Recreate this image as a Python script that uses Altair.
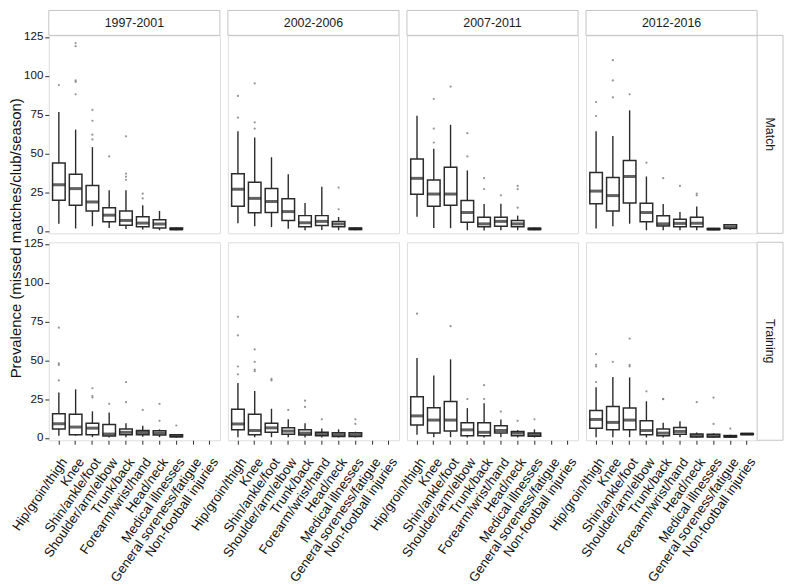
import altair as alt
import pandas as pd

CATEGORIES = ["Hip/groin/thigh", "Knee", "Shin/ankle/foot", "Shoulder/arm/elbow",
              "Trunk/back", "Forearm/wrist/hand", "Head/neck", "Medical illnesses",
              "General soreness/fatigue", "Non-football injuries"]
PERIODS = ["1997-2001", "2002-2006", "2007-2011", "2012-2016"]
SETTINGS = ["Match", "Training"]
Y_TICKS = [0, 25, 50, 75, 100, 125]

# Box statistics per category: [lower whisker, Q1, median, Q3, upper whisker]; None = no data
MATCH_1997 = [[4.7, 19.8, 29.8, 43.8, 76.6], [1.6, 16.6, 27.3, 36.6, 65.3], [3.1, 12.9, 18.7, 29.3, 54.0],
              [2.0, 6.0, 10.2, 15.0, 26.3], [1.3, 3.7, 6.8, 12.9, 26.3], [0.9, 2.7, 5.1, 9.2, 16.6],
              [0.5, 2.0, 4.5, 7.2, 12.9], [0.5, 1.0, 1.3, 1.9, 2.2], None, None]
MATCH_2002 = [[5.0, 16.0, 26.9, 36.8, 64.3], [3.0, 11.7, 21.0, 31.4, 60.2], [2.5, 11.9, 19.0, 27.3, 47.5],
              [1.5, 6.8, 12.5, 20.7, 36.6], [0.5, 2.7, 5.3, 9.9, 18.1], [0.7, 3.5, 6.2, 9.9, 28.5],
              [0.5, 2.7, 4.6, 6.2, 9.0], [0.5, 1.0, 1.4, 1.9, 2.2], None, None]
MATCH_2007 = [[9.2, 23.6, 33.9, 46.4, 74.2], [2.0, 16.0, 23.8, 32.9, 53.0], [1.8, 16.6, 23.8, 41.1, 68.4],
              [0.5, 5.7, 11.9, 19.7, 39.0], [0.3, 2.8, 4.6, 8.8, 17.4], [0.5, 3.0, 6.2, 8.8, 17.6],
              [0.5, 2.7, 4.6, 6.8, 9.9], [0.5, 1.0, 1.3, 1.8, 2.2], None, None]
MATCH_2012 = [[1.6, 17.6, 25.7, 37.6, 64.3], [3.0, 12.9, 22.8, 34.5, 61.2], [4.7, 18.1, 35.1, 45.4, 77.7],
              [0.5, 6.0, 11.9, 17.8, 35.1], [0.5, 3.2, 4.6, 9.8, 17.4], [0.5, 2.7, 4.9, 7.6, 12.3],
              [0.5, 2.7, 5.0, 8.8, 15.8], [0.5, 0.9, 1.2, 1.6, 2.0], [0.8, 1.6, 2.5, 4.0, 4.5], None]
TRAIN_1997 = [[1.4, 5.8, 9.1, 15.6, 29.2], [1.4, 2.1, 7.0, 15.2, 31.3], [0.5, 2.1, 6.3, 9.4, 17.1],
              [0.3, 1.2, 2.5, 8.6, 16.3], [0.5, 2.1, 3.6, 5.7, 9.4], [0.7, 2.1, 3.5, 4.8, 7.8],
              [0.5, 1.9, 3.1, 4.6, 5.5], [0.3, 0.7, 1.2, 2.0, 2.3], None, None]
TRAIN_2002 = [[0.5, 5.2, 9.0, 18.4, 35.4], [0.5, 2.1, 4.8, 15.2, 30.2], [0.5, 3.6, 6.5, 9.4, 18.8],
              [0.5, 2.3, 4.4, 6.5, 12.0], [0.3, 1.9, 3.1, 5.2, 9.4], [0.3, 1.4, 2.5, 3.6, 6.0],
              [0.3, 1.0, 2.0, 3.3, 5.5], [0.3, 1.0, 2.0, 3.3, 4.0], None, None]
TRAIN_2007 = [[2.0, 8.4, 14.2, 26.5, 51.5], [0.5, 3.1, 11.5, 19.4, 40.2], [0.5, 4.4, 11.5, 23.4, 50.6],
              [0.3, 1.4, 5.2, 9.8, 19.2], [0.3, 1.4, 3.6, 9.8, 22.3], [0.5, 3.1, 4.8, 7.8, 11.9],
              [0.3, 1.4, 3.1, 4.2, 5.0], [0.3, 1.1, 2.1, 3.1, 5.5], None, None]
TRAIN_2012 = [[0.5, 6.3, 11.9, 17.7, 32.7], [0.5, 5.2, 10.0, 20.2, 39.2], [0.5, 5.2, 11.5, 19.2, 39.0],
              [0.3, 2.1, 4.8, 11.0, 23.6], [0.3, 1.4, 3.1, 5.7, 9.8], [0.5, 2.3, 4.2, 6.7, 10.8],
              [0.2, 0.6, 1.5, 2.5, 3.5], [0.2, 0.6, 1.3, 2.4, 3.0], [0.3, 0.6, 1.0, 1.5, 2.0],
              [2.0, 2.2, 2.5, 2.8, 3.0]]

# Individual club-season values lying beyond the whiskers: (category, value)
OUT_MATCH_1997 = [("Hip/groin/thigh", 94), ("Knee", 121), ("Knee", 119), ("Knee", 97), ("Knee", 96),
                  ("Knee", 88), ("Shin/ankle/foot", 78), ("Shin/ankle/foot", 71), ("Shin/ankle/foot", 62),
                  ("Shin/ankle/foot", 59), ("Shoulder/arm/elbow", 48), ("Trunk/back", 61), ("Trunk/back", 37),
                  ("Trunk/back", 35), ("Trunk/back", 33), ("Forearm/wrist/hand", 24), ("Forearm/wrist/hand", 21)]
OUT_MATCH_2002 = [("Hip/groin/thigh", 87), ("Hip/groin/thigh", 73), ("Knee", 95), ("Knee", 70), ("Knee", 66),
                  ("Head/neck", 28), ("Head/neck", 14)]
OUT_MATCH_2007 = [("Knee", 85), ("Knee", 66), ("Knee", 57), ("Shin/ankle/foot", 93), ("Shoulder/arm/elbow", 63),
                  ("Shoulder/arm/elbow", 48), ("Trunk/back", 34), ("Trunk/back", 27), ("Forearm/wrist/hand", 23),
                  ("Head/neck", 29), ("Head/neck", 27), ("Head/neck", 15)]
OUT_MATCH_2012 = [("Hip/groin/thigh", 83), ("Hip/groin/thigh", 74), ("Knee", 110), ("Knee", 97), ("Knee", 86),
                  ("Shin/ankle/foot", 88), ("Shoulder/arm/elbow", 44), ("Trunk/back", 34),
                  ("Forearm/wrist/hand", 29), ("Head/neck", 24), ("Head/neck", 23)]
OUT_TRAIN_1997 = [("Hip/groin/thigh", 71), ("Hip/groin/thigh", 48), ("Hip/groin/thigh", 47), ("Hip/groin/thigh", 37),
                  ("Shin/ankle/foot", 32), ("Shin/ankle/foot", 27), ("Shin/ankle/foot", 26),
                  ("Shoulder/arm/elbow", 22), ("Trunk/back", 36), ("Trunk/back", 23), ("Forearm/wrist/hand", 18),
                  ("Head/neck", 22), ("Head/neck", 11), ("Medical illnesses", 8)]
OUT_TRAIN_2002 = [("Hip/groin/thigh", 78), ("Hip/groin/thigh", 66), ("Hip/groin/thigh", 46), ("Hip/groin/thigh", 41),
                  ("Knee", 57), ("Knee", 49), ("Knee", 44), ("Knee", 43), ("Shin/ankle/foot", 38),
                  ("Shin/ankle/foot", 37), ("Shoulder/arm/elbow", 18), ("Trunk/back", 24), ("Trunk/back", 20),
                  ("Forearm/wrist/hand", 12), ("Medical illnesses", 12), ("Medical illnesses", 9)]
OUT_TRAIN_2007 = [("Hip/groin/thigh", 80), ("Shin/ankle/foot", 72), ("Shoulder/arm/elbow", 25), ("Trunk/back", 34),
                  ("Trunk/back", 25), ("Forearm/wrist/hand", 17), ("Head/neck", 11), ("Medical illnesses", 12)]
OUT_TRAIN_2012 = [("Hip/groin/thigh", 54), ("Hip/groin/thigh", 47), ("Hip/groin/thigh", 46), ("Hip/groin/thigh", 36),
                  ("Knee", 49), ("Shin/ankle/foot", 64), ("Shin/ankle/foot", 47), ("Shin/ankle/foot", 46),
                  ("Shoulder/arm/elbow", 30), ("Trunk/back", 25), ("Trunk/back", 25), ("Head/neck", 23),
                  ("Medical illnesses", 26), ("Medical illnesses", 9), ("General soreness/fatigue", 6)]

BOX_STATS = {
    ("Match", "1997-2001"): MATCH_1997, ("Match", "2002-2006"): MATCH_2002,
    ("Match", "2007-2011"): MATCH_2007, ("Match", "2012-2016"): MATCH_2012,
    ("Training", "1997-2001"): TRAIN_1997, ("Training", "2002-2006"): TRAIN_2002,
    ("Training", "2007-2011"): TRAIN_2007, ("Training", "2012-2016"): TRAIN_2012,
}
OUTLIERS = {
    ("Match", "1997-2001"): OUT_MATCH_1997, ("Match", "2002-2006"): OUT_MATCH_2002,
    ("Match", "2007-2011"): OUT_MATCH_2007, ("Match", "2012-2016"): OUT_MATCH_2012,
    ("Training", "1997-2001"): OUT_TRAIN_1997, ("Training", "2002-2006"): OUT_TRAIN_2002,
    ("Training", "2007-2011"): OUT_TRAIN_2007, ("Training", "2012-2016"): OUT_TRAIN_2012,
}

FONT = "Liberation Sans"
GREY = "#c4c4c4"
INK = "#2b2b2b"
W, H = 172, 199
GAP = 9
STRIP_H, STRIP_W = 25, 26
BOX_PX = 0.75 * W / 10.2
YSCALE = alt.Scale(domain=[-1.5, 126], nice=False, zero=False)
XSCALE = alt.Scale(domain=CATEGORIES, paddingInner=0, paddingOuter=0.1)


def panel(setting, period, col, row):
    rows = []
    for cat, st in zip(CATEGORIES, BOX_STATS[(setting, period)]):
        if st is not None:
            rows.append({"category": cat, "lo": st[0], "q1": st[1], "med": st[2], "q3": st[3], "hi": st[4]})
    box_df = pd.DataFrame(rows)
    out_df = pd.DataFrame(OUTLIERS[(setting, period)], columns=["category", "value"])

    if row == 1:
        x_axis = alt.Axis(labelAngle=-55, labelAlign="right", labelBaseline="top", labelFontSize=13.3,
                          labelColor="#111111", labelFont=FONT, tickColor=INK, tickSize=4, domain=False,
                          labelPadding=11, grid=False)
    else:
        x_axis = None
    if col == 0:
        y_axis = alt.Axis(values=Y_TICKS, grid=False, domain=False, tickColor=INK, tickSize=4,
                          labelFontSize=11.6, labelColor="#111111", labelFont=FONT, labelPadding=2,
                          titleFont=FONT, titleFontSize=15, titleFontWeight="normal", titleColor="#111111",
                          titleX=-33, titleY=H + GAP / 2, titleAlign="center", titleBaseline="middle")
    else:
        y_axis = None
    ytitle = "Prevalence (missed matches/club/season)" if (col == 0 and row == 0) else None

    def X():
        return alt.X("category:N", scale=XSCALE, axis=x_axis, title=None, sort=CATEGORIES)

    def Y(field):
        return alt.Y(field, scale=YSCALE, axis=y_axis, title=ytitle)

    base = alt.Chart(box_df)
    lower = base.mark_rule(color=INK, strokeWidth=1.4).encode(x=X(), y=Y("lo:Q"), y2="q1:Q")
    upper = base.mark_rule(color=INK, strokeWidth=1.4).encode(x=X(), y=Y("q3:Q"), y2="hi:Q")
    box = base.mark_bar(fill="white", stroke=INK, strokeWidth=1.5,
                        width=alt.RelativeBandSize(0.75)).encode(x=X(), y=Y("q1:Q"), y2="q3:Q")
    med = base.mark_tick(color="#1f1f1f", thickness=3, size=BOX_PX).encode(x=X(), y=Y("med:Q"))
    pts = alt.Chart(out_df).mark_circle(size=5, color="#7a7a7a", opacity=0.8).encode(x=X(), y=Y("value:Q"))

    layers = [lower, upper, box, med, pts]
    if row == 0:
        lab = pd.DataFrame({"label": [period]})
        strip_rect = alt.Chart(lab).mark_rect(fill="white", stroke=GREY, strokeWidth=1).encode(
            x=alt.value(0), x2=alt.value(W), y=alt.value(-STRIP_H), y2=alt.value(0))
        strip_txt = alt.Chart(lab).mark_text(font=FONT, fontSize=12.5, color="#1a1a1a").encode(
            x=alt.value(W / 2), y=alt.value(-STRIP_H / 2), text="label:N")
        layers += [strip_rect, strip_txt]
    if col == 3:
        lab = pd.DataFrame({"label": [setting]})
        strip_rect = alt.Chart(lab).mark_rect(fill="white", stroke=GREY, strokeWidth=1).encode(
            x=alt.value(W), x2=alt.value(W + STRIP_W), y=alt.value(0), y2=alt.value(H))
        strip_txt = alt.Chart(lab).mark_text(font=FONT, fontSize=12.5, color="#1a1a1a", angle=90).encode(
            x=alt.value(W + STRIP_W / 2), y=alt.value(H / 2), text="label:N")
        layers += [strip_rect, strip_txt]

    return alt.layer(*layers).properties(width=W, height=H)


panels = []
for r, setting in enumerate(SETTINGS):
    for c, period in enumerate(PERIODS):
        panels.append(panel(setting, period, c, r))

chart = alt.concat(*panels, columns=4, spacing={"row": GAP, "column": 8}, bounds="flush").resolve_scale(
    x="independent", y="independent"
).properties(
    padding={"left": 0, "top": 0, "right": 0, "bottom": 0}
).configure_view(
    stroke=GREY, strokeWidth=1
).configure(background="white")

chart.save("out.html", embed_options={"renderer": "svg", "actions": False})
